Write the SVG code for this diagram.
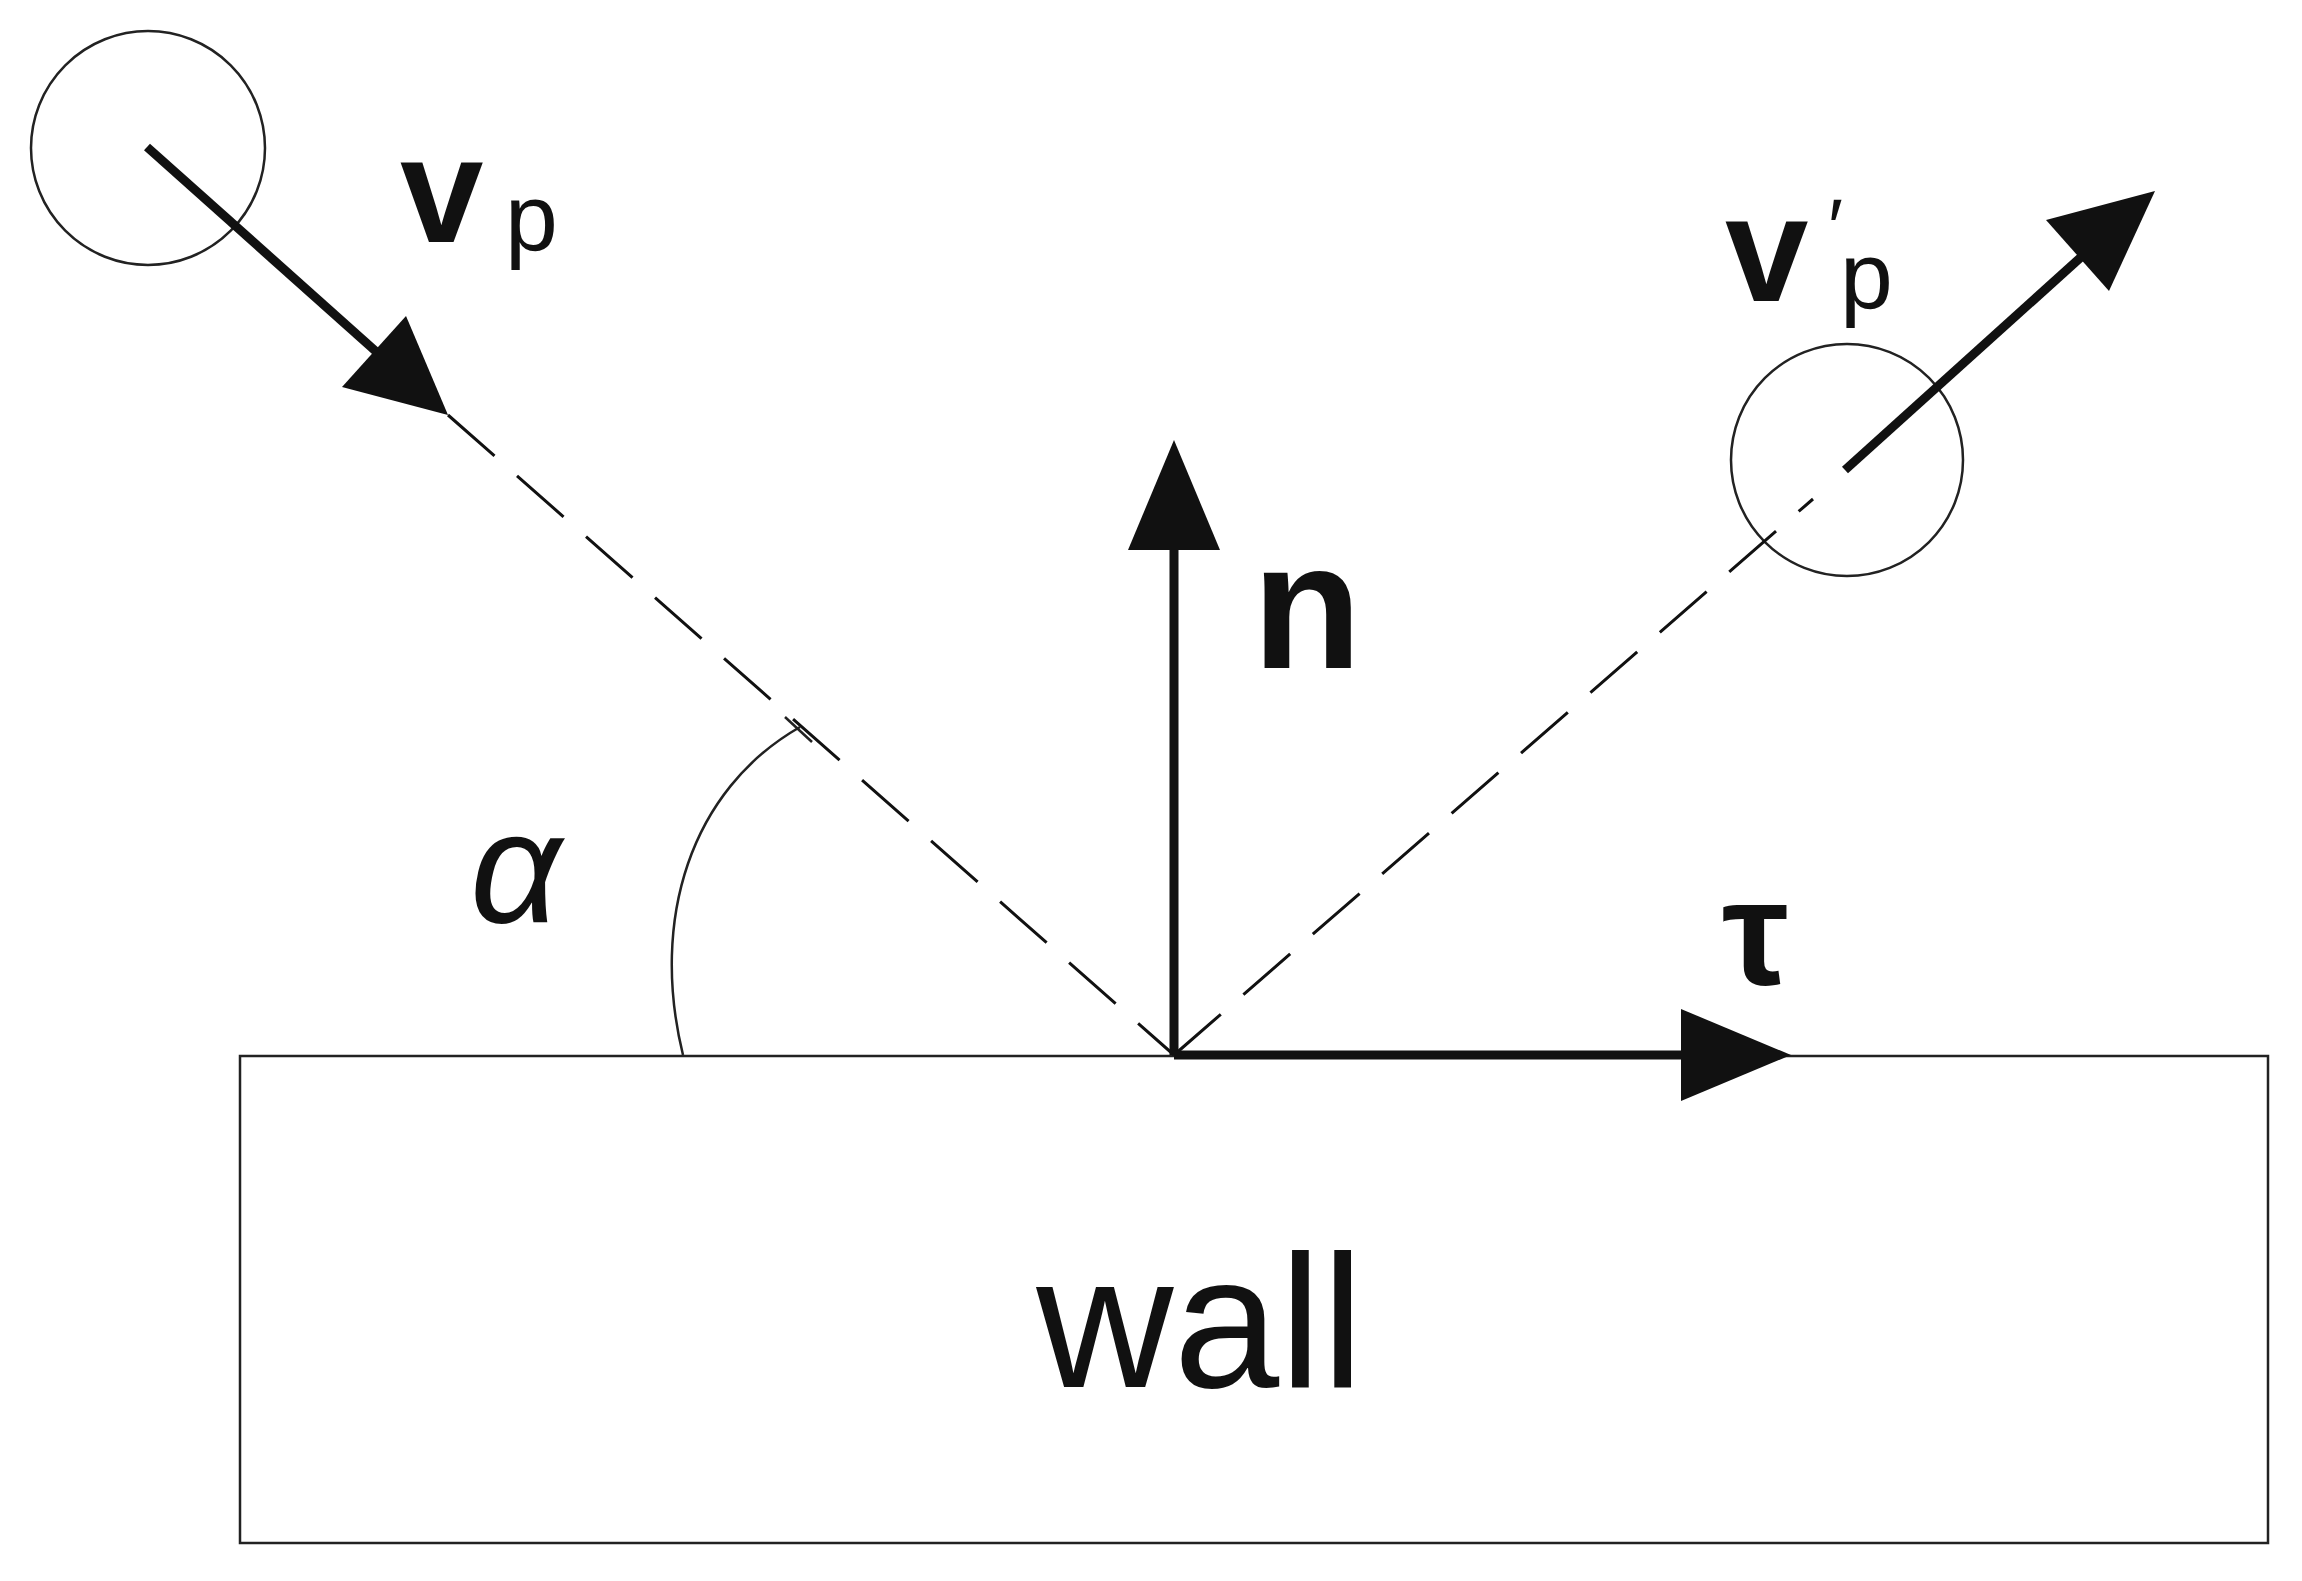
<svg xmlns="http://www.w3.org/2000/svg" width="2302" height="1581" viewBox="0 0 2302 1581">
<style>
.thin{fill:none;stroke:#222;stroke-width:2.5}
.dash{fill:none;stroke:#111;stroke-width:3;stroke-dasharray:62 30}
.vec{fill:none;stroke:#111;stroke-width:9}
.head{fill:#111}
text{font-family:"Liberation Sans",Arial,sans-serif;fill:#111}
</style>
<rect width="2302" height="1581" fill="#fff"/>
<g id="wall"><rect x="240" y="1056" width="2028" height="487" class="thin"/><text x="1200" y="1387" font-size="190" text-anchor="middle">wall</text></g>
<g id="particle-in"><circle cx="148" cy="148" r="117" class="thin"/></g>
<g id="particle-out"><ellipse cx="1847" cy="460" rx="116" ry="116" class="thin"/></g>
<g id="connectors">
<line x1="448" y1="415" x2="1174" y2="1055" class="dash"/>
<line x1="1174" y1="1055" x2="1813" y2="499" class="dash"/>
<line x1="147" y1="147" x2="390" y2="364" class="vec"/>
<polygon class="head" points="448,415 342,387 406,316"/>
<line x1="1845" y1="470" x2="2100" y2="240" class="vec"/>
<polygon class="head" points="2155,191 2109,291 2046,220"/>
<line x1="1174" y1="1055" x2="1174" y2="520" class="vec"/>
<polygon class="head" points="1174,440 1220,550 1128,550"/>
<line x1="1174" y1="1055" x2="1710" y2="1055" class="vec"/>
<polygon class="head" points="1791,1055 1681,1101 1681,1009"/>
<path d="M683,1055 C650,920 690,790 800,727" class="thin"/>
<line x1="785" y1="717" x2="812" y2="742" class="thin"/>
</g>
<g id="labels">
<text x="400" y="242" font-size="150" font-weight="bold">v</text>
<text x="505" y="250" font-size="95">p</text>
<text x="1725" y="301" font-size="150" font-weight="bold">v</text>
<text x="1828" y="255" font-size="80">′</text>
<text x="1840" y="308" font-size="95">p</text>
<text x="1252" y="668" font-size="180" font-weight="bold">n</text>
<text x="470" y="922" font-size="160" font-style="italic">α</text>
<text x="1722" y="984" font-size="150" font-weight="bold">τ</text>
</g>
</svg>
